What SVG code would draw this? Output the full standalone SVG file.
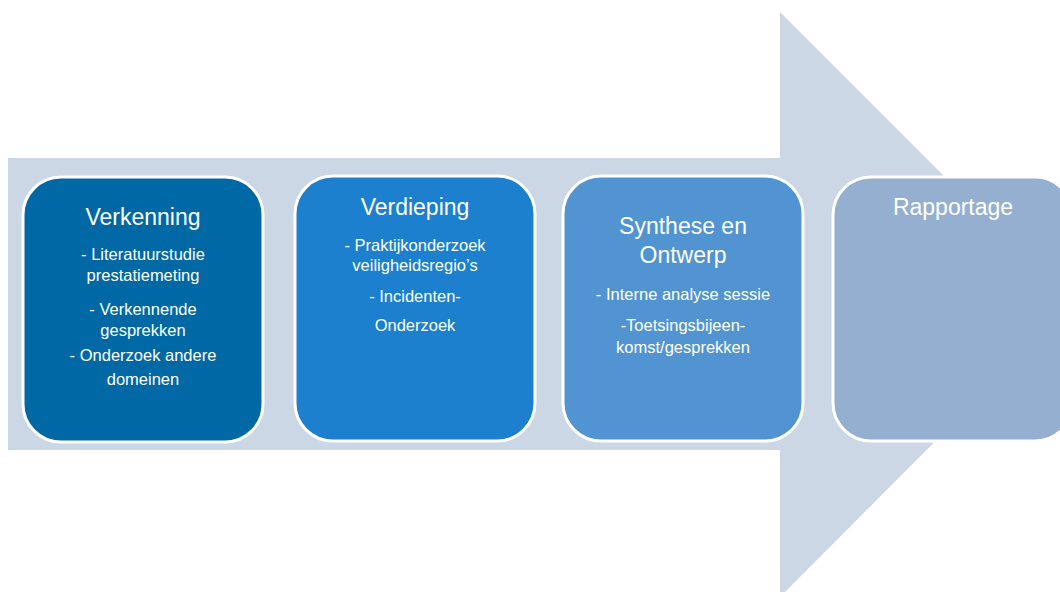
<svg xmlns="http://www.w3.org/2000/svg" width="1060" height="592" viewBox="0 0 1060 592">
<style>
.box{stroke:#fff;stroke-width:3}
.t{font-family:"Liberation Sans",Arial,sans-serif;fill:#fff;text-anchor:middle}
.h{font-size:23px}
.i{font-size:16.5px}
</style>
<rect width="1060" height="592" fill="#fff"/>
<g id="arrow">
<polygon points="8,158 780,158 780,12 1072,304 780,597 780,450 8,450" fill="#CBD7E4"/>
</g>
<g id="connectors"></g>
<g id="verkenning">
<rect class="box" x="23" y="177" width="240" height="265" rx="38" fill="#0068A5"/>
<text class="t h" x="143" y="225">Verkenning</text>
<text class="t i" x="143" y="260">- Literatuurstudie</text>
<text class="t i" x="143" y="281">prestatiemeting</text>
<text class="t i" x="143" y="315">- Verkennende</text>
<text class="t i" x="143" y="336">gesprekken</text>
<text class="t i" x="143" y="361">- Onderzoek andere</text>
<text class="t i" x="143" y="385">domeinen</text>
</g>
<g id="verdieping">
<rect class="box" x="295" y="176" width="240" height="265" rx="38" fill="#1C80CE"/>
<text class="t h" x="415" y="215">Verdieping</text>
<text class="t i" x="415" y="251">- Praktijkonderzoek</text>
<text class="t i" x="415" y="271">veiligheidsregio’s</text>
<text class="t i" x="415" y="302">- Incidenten-</text>
<text class="t i" x="415" y="331">Onderzoek</text>
</g>
<g id="synthese">
<rect class="box" x="563" y="176" width="240" height="265" rx="38" fill="#5294D1"/>
<text class="t h" x="683" y="234">Synthese en</text>
<text class="t h" x="683" y="263">Ontwerp</text>
<text class="t i" x="683" y="300">- Interne analyse sessie</text>
<text class="t i" x="683" y="331">-Toetsingsbijeen-</text>
<text class="t i" x="683" y="353">komst/gesprekken</text>
</g>
<g id="rapportage">
<rect class="box" x="833" y="177" width="240" height="264" rx="38" fill="#95AFD0"/>
<text class="t h" x="953" y="215">Rapportage</text>
</g>
</svg>
